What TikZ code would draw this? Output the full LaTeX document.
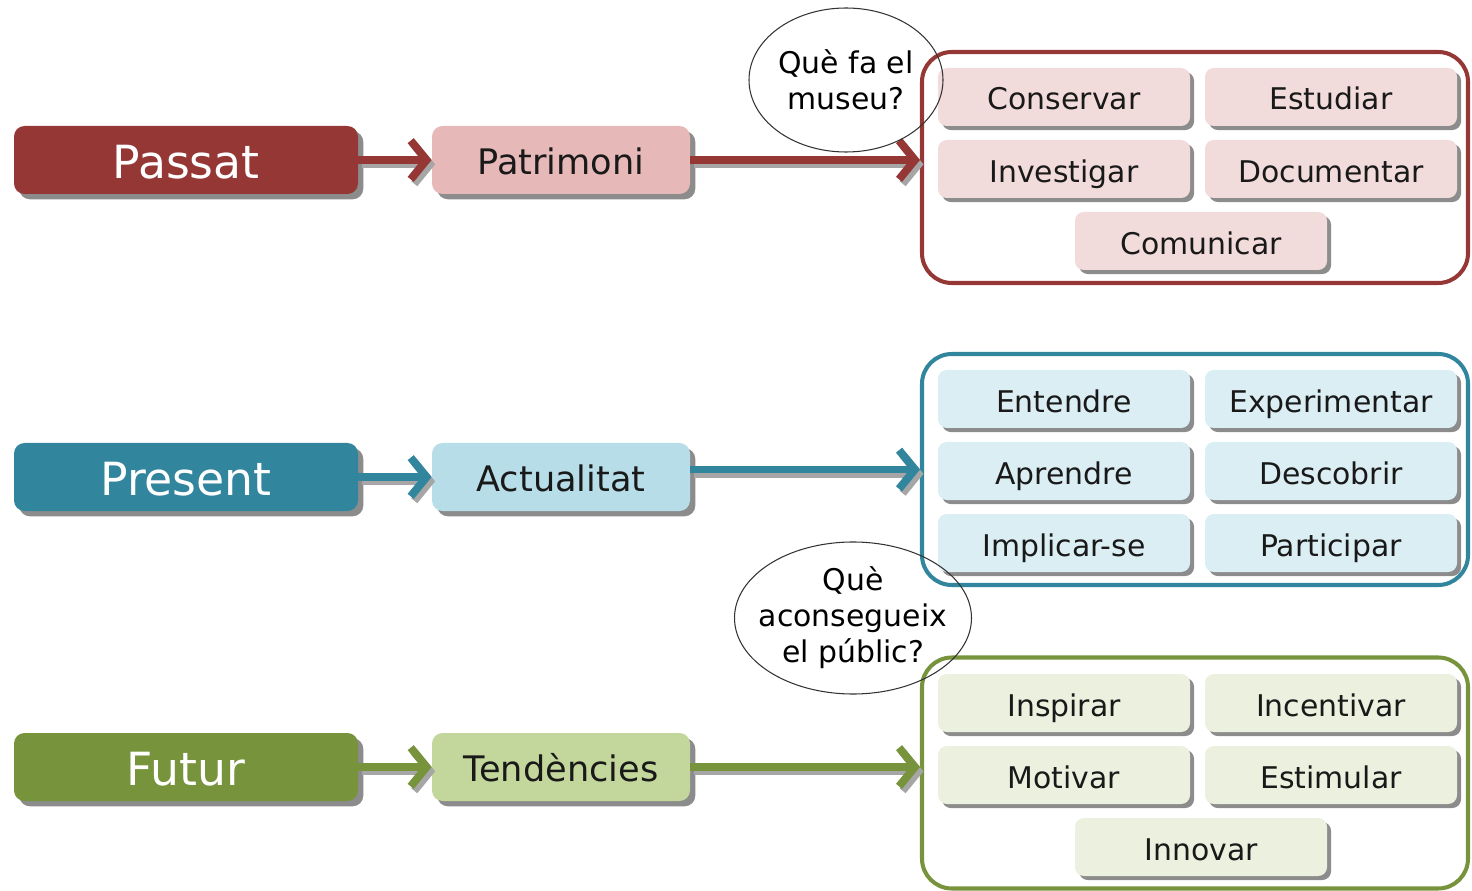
\documentclass[tikz,border=0pt]{standalone}
\usepackage{fontspec}
\setmainfont{DejaVu Sans}
\usetikzlibrary{arrows.meta,shapes.geometric,shadows}

\definecolor{pastdark}{HTML}{953735}
\definecolor{pastmid}{HTML}{E6B9B8}
\definecolor{pastlight}{HTML}{F2DCDB}
\definecolor{presdark}{HTML}{31859C}
\definecolor{presmid}{HTML}{B7DEE8}
\definecolor{preslight}{HTML}{DBEEF4}
\definecolor{futdark}{HTML}{77933C}
\definecolor{futmid}{HTML}{C3D69B}
\definecolor{futlight}{HTML}{EBF1DE}

\tikzset{
  boxshadow/.style={drop shadow={shadow xshift=#1,shadow yshift=-#1,fill=black!45,opacity=1}},
  mainbox/.style={rounded corners=6pt, minimum width=6.88cm, minimum height=1.36cm,
    text=white, font=\fontsize{26}{30}\selectfont, text height=22pt, text depth=1.5pt,
    boxshadow=3pt},
  topicbox/.style={rounded corners=6pt, minimum width=5.16cm, minimum height=1.36cm,
    text=black!90, font=\fontsize{20}{24}\selectfont, text height=18pt, text depth=1pt,
    boxshadow=3pt},
  itembox/.style={rounded corners=5pt, minimum width=5.04cm, minimum height=1.16cm,
    text=black!90, font=\fontsize{17}{20}\selectfont, text height=16pt, text depth=1.2pt,
    boxshadow=2.3pt},
  groupbox/.style={draw=#1, line width=2.3pt, rounded corners=17pt,
    minimum width=10.92cm, minimum height=4.62cm},
  bubble/.style={ellipse, draw=black!80, line width=0.6pt, align=center,
    font=\fontsize{17}{20.5}\selectfont, inner sep=0pt},
  flowarrow/.style={draw=#1, line width=4.5pt, -{Straight Barb[length=9pt,width=22pt]}},
  arrowshadow/.style={flowarrow=black!35, transform canvas={shift={(2pt,-2.5pt)}}}
}

\begin{document}
\begin{tikzpicture}
\useasboundingbox (0,0) rectangle (29.44,17.8);

% Passat
\node[mainbox, fill=pastdark] (passat) at (3.72,14.6) {Passat};
\node[topicbox, fill=pastmid] (patrimoni) at (11.22,14.6) {Patrimoni};
\node[groupbox=pastdark] (museu) at (23.9,14.45) {};
\node[itembox, fill=pastlight] (conservar) at (21.28,15.86) {Conservar};
\node[itembox, fill=pastlight] (estudiar) at (26.62,15.86) {Estudiar};
\node[itembox, fill=pastlight] (investigar) at (21.28,14.42) {Investigar};
\node[itembox, fill=pastlight] (documentar) at (26.62,14.42) {Documentar};
\node[itembox, fill=pastlight] (comunicar) at (24.02,12.98) {Comunicar};
\draw[arrowshadow] (passat) -- (patrimoni);
\draw[flowarrow=pastdark] (passat) -- (patrimoni);
\draw[arrowshadow] (patrimoni) -- (patrimoni -| museu.west);
\draw[flowarrow=pastdark] (patrimoni) -- (patrimoni -| museu.west);
\node[bubble, minimum width=3.88cm, minimum height=2.88cm] (quefa) at (16.92,16.2) {Què fa el\\museu?};

% Present
\node[mainbox, fill=presdark] (present) at (3.72,8.26) {Present};
\node[topicbox, fill=presmid] (actualitat) at (11.22,8.26) {Actualitat};
\node[groupbox=presdark] (public) at (23.9,8.41) {};
\node[itembox, fill=preslight] (entendre) at (21.28,9.82) {Entendre};
\node[itembox, fill=preslight] (experimentar) at (26.62,9.82) {Experimentar};
\node[itembox, fill=preslight] (aprendre) at (21.28,8.38) {Aprendre};
\node[itembox, fill=preslight] (descobrir) at (26.62,8.38) {Descobrir};
\node[itembox, fill=preslight] (implicar) at (21.28,6.94) {Implicar-se};
\node[itembox, fill=preslight] (participar) at (26.62,6.94) {Participar};
\draw[arrowshadow] (present) -- (actualitat);
\draw[flowarrow=presdark] (present) -- (actualitat);
\draw[arrowshadow] (actualitat.east |- public) -- (public.west);
\draw[flowarrow=presdark] (actualitat.east |- public) -- (public.west);

% Futur
\node[mainbox, fill=futdark] (futur) at (3.72,2.46) {Futur};
\node[topicbox, fill=futmid] (tendencies) at (11.22,2.46) {Tendències};
\node[groupbox=futdark] (resultat) at (23.9,2.34) {};
\node[itembox, fill=futlight] (inspirar) at (21.28,3.74) {Inspirar};
\node[itembox, fill=futlight] (incentivar) at (26.62,3.74) {Incentivar};
\node[itembox, fill=futlight] (motivar) at (21.28,2.30) {Motivar};
\node[itembox, fill=futlight] (estimular) at (26.62,2.30) {Estimular};
\node[itembox, fill=futlight] (innovar) at (24.02,0.86) {Innovar};
\draw[arrowshadow] (futur) -- (tendencies);
\draw[flowarrow=futdark] (futur) -- (tendencies);
\draw[arrowshadow] (tendencies) -- (tendencies -| resultat.west);
\draw[flowarrow=futdark] (tendencies) -- (tendencies -| resultat.west);
\node[bubble, minimum width=4.74cm, minimum height=3.04cm, inner xsep=-6pt] (queaconsegueix) at (17.06,5.44) {Què\\aconsegueix\\el públic?};
\end{tikzpicture}
\end{document}
